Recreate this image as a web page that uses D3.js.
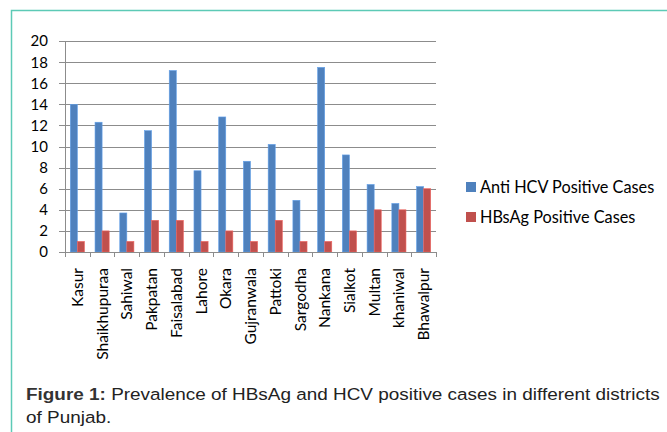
<!DOCTYPE html>
<html>
<head>
<meta charset="utf-8">
<script src="https://cdn.jsdelivr.net/npm/d3@7"></script>
<style>
  body { margin: 0; background: #fff; }
  .chart-text { font-family: Lato, "Open Sans", sans-serif; }
  .caption { font-family: "Liberation Sans", Arial, sans-serif; }
</style>
</head>
<body>
<svg id="chart" width="667" height="432"></svg>
<script>
// districts on the x axis
var districts = ["Kasur", "Shaikhupuraa", "Sahiwal", "Pakpatan", "Faisalabad", "Lahore", "Okara",
    "Gujranwala", "Pattoki", "Sargodha", "Nankana", "Sialkot", "Multan", "khaniwal", "Bhawalpur"];
var hcvCases = [14, 12.3, 3.7, 11.5, 17.2, 7.7, 12.8, 8.6, 10.2, 4.9, 17.5, 9.2, 6.4, 4.6, 6.2];
var hbsagCases = [1, 2, 1, 3, 3, 1, 2, 1, 3, 1, 1, 2, 4, 4, 6];
var seriesNames = ["Anti HCV Positive Cases", "HBsAg Positive Cases"];
var yTicks = [0, 2, 4, 6, 8, 10, 12, 14, 16, 18, 20];

var colors = ["#4f81bd", "#c0504d"];

var margin = {top: 41, left: 65},
    width = 371,
    height = 211;

var svg = d3.select("#chart");

// teal frame round the figure
svg.append("path")
    .attr("d", "M11.5,432 L11.5,10.5 L667,10.5")
    .attr("fill", "none")
    .attr("stroke", "#5dcab6")
    .attr("stroke-width", 1.5);

var g = svg.append("g")
    .attr("class", "chart-text")
    .attr("transform", "translate(" + margin.left + "," + margin.top + ")");

var x = d3.scaleBand().domain(districts).range([0, width]);
var x1 = d3.scaleBand().domain(seriesNames).range([0, x.bandwidth()]).paddingInner(0).paddingOuter(0.75);
var y = d3.scaleLinear().domain([0, 20]).range([height, 0]);

// gridlines
g.append("g")
    .selectAll("line")
    .data(yTicks)
    .join("line")
    .attr("x1", -6)
    .attr("x2", width)
    .attr("y1", function(d) { return Math.round(y(d)) + 0.5; })
    .attr("y2", function(d) { return Math.round(y(d)) + 0.5; })
    .attr("stroke", "#8c8c8c")
    .attr("stroke-width", 1);

g.append("g")
    .selectAll("text")
    .data(yTicks)
    .join("text")
    .attr("x", -17)
    .attr("y", function(d) { return y(d); })
    .attr("dy", "0.36em")
    .attr("text-anchor", "end")
    .attr("font-size", 15)
    .attr("fill", "#000")
    .text(function(d) { return d; });

// bars
var series = [hcvCases, hbsagCases];
series.forEach(function(vals, si) {
    g.append("g")
        .selectAll("rect")
        .data(vals)
        .join("rect")
        .attr("x", function(d, i) { return x(districts[i]) + x1(seriesNames[si]); })
        .attr("y", function(d) { return y(d); })
        .attr("width", x1.bandwidth())
        .attr("height", function(d) { return height - y(d); })
        .attr("fill", colors[si])
        .attr("stroke", d3.color(colors[si]).brighter(0.6))
        .attr("stroke-width", 0.6);
});

// y axis line
g.append("line")
    .attr("x1", 0.5).attr("x2", 0.5)
    .attr("y1", 0).attr("y2", height)
    .attr("stroke", "#8c8c8c");

// x axis with ticks at band edges
g.append("line")
    .attr("x1", 0).attr("x2", width)
    .attr("y1", height + 0.5).attr("y2", height + 0.5)
    .attr("stroke", "#8c8c8c");

g.append("g")
    .selectAll("line")
    .data(d3.range(districts.length + 1))
    .join("line")
    .attr("x1", function(i) { return Math.round(i * x.step()) + 0.5; })
    .attr("x2", function(i) { return Math.round(i * x.step()) + 0.5; })
    .attr("y1", height)
    .attr("y2", height + 5)
    .attr("stroke", "#8c8c8c");

g.append("g")
    .selectAll("text")
    .data(districts)
    .join("text")
    .attr("transform", function(d) {
        return "translate(" + (x(d) + x.bandwidth() / 2) + "," + (height + 16) + ") rotate(-90)";
    })
    .attr("text-anchor", "end")
    .attr("dy", "0.36em")
    .attr("font-size", 15.5)
    .attr("fill", "#000")
    .text(function(d) { return d; });

// legend
var legend = svg.append("g")
    .attr("class", "chart-text")
    .attr("transform", "translate(466,182)");

legend.selectAll("rect")
    .data(seriesNames)
    .join("rect")
    .attr("x", 0)
    .attr("y", function(d, i) { return i * 30; })
    .attr("width", 10)
    .attr("height", 10)
    .attr("fill", function(d, i) { return colors[i]; });

legend.selectAll("text")
    .data(seriesNames)
    .join("text")
    .attr("x", 14)
    .attr("y", function(d, i) { return i * 30 + 5; })
    .attr("dy", "0.36em")
    .attr("font-size", 16.3)
    .attr("fill", "#000")
    .text(function(d) { return d; });

// caption (the source figure is a little stretched sideways)
var caption = svg.append("text")
    .attr("class", "caption")
    .attr("transform", "translate(26,400) scale(1.1,1)")
    .attr("font-size", 17.2)
    .attr("fill", "#222");
caption.append("tspan").attr("font-weight", "bold").attr("fill", "#333").text("Figure 1:");
caption.append("tspan").text(" Prevalence of HBsAg and HCV positive cases in different districts");
svg.append("text")
    .attr("class", "caption")
    .attr("transform", "translate(26,423) scale(1.1,1)")
    .attr("font-size", 17.2)
    .attr("fill", "#222")
    .text("of Punjab.");
</script>
</body>
</html>
